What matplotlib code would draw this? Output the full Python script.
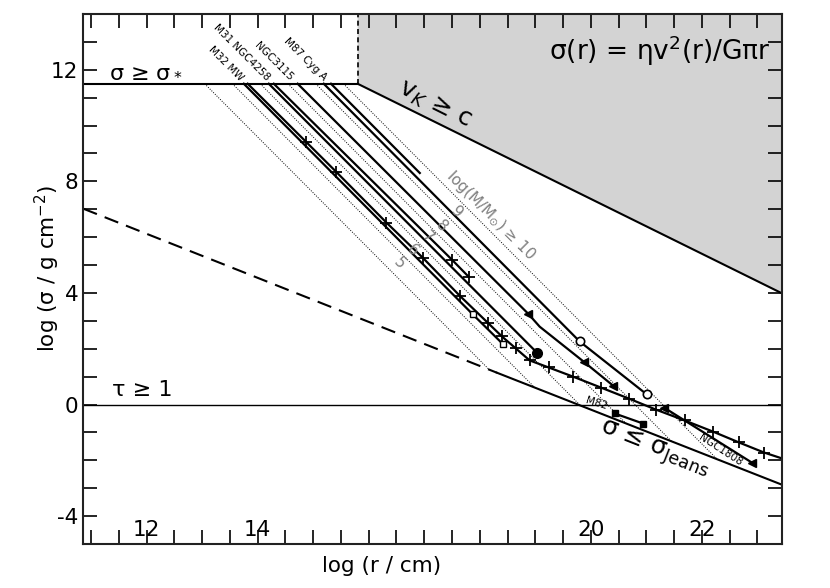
import matplotlib
matplotlib.use('Agg')
import matplotlib.pyplot as plt
from matplotlib.ticker import MultipleLocator

plt.rcParams['axes.unicode_minus'] = False

# limits of the diagram (log r, log sigma)
sigma_star = 11.5
r_vk = [15.8, 23.45]
s_vk = [11.5, 3.98]
jeans_r = [10.86, 18.31, 23.45]
jeans_s = [7.02, 1.14, -2.88]

# constant black-hole-mass lines, log(M/Msun)
mass_logs = [5, 6, 7, 8, 9, 10]
mass_zero = 32.59  # log sigma = mass_zero + m - 2 log r

# galaxies: log r, log sigma
m32_r = [13.75, 17.87, 18.41]
m32_s = [11.5, 3.24, 2.18]
mw_r = [13.82, 14.87, 15.41, 16.32, 16.97, 17.64, 18.14, 18.40, 18.65, 18.90,
        19.24, 19.68, 20.18, 20.69, 21.17, 21.69, 22.20, 22.67, 23.12, 23.44]
mw_s = [11.5, 9.42, 8.35, 6.52, 5.27, 3.90, 2.94, 2.44, 2.01, 1.58,
        1.33, 1.00, 0.61, 0.21, -0.18, -0.57, -0.97, -1.36, -1.72, -1.93]
m31_r = [14.20, 19.03]
m31_s = [11.5, 1.86]
n4258_r = [14.29, 17.50, 17.80]
n4258_s = [11.5, 5.19, 4.58]
n3115_r = [14.72, 18.87, 19.08, 19.87, 20.40]
n3115_s = [11.5, 3.26, 2.79, 1.54, 0.68]
m87_r = [15.19, 19.80, 21.01]
m87_s = [11.5, 2.26, 0.36]
cyga_r = [15.32, 16.92]
cyga_s = [11.5, 8.30]
n1808_r = [21.32, 22.90]
n1808_s = [-0.11, -2.08]
m82_r = [20.43, 20.94]
m82_s = [-0.32, -0.68]

xticks = [12, 14, 16, 18, 20, 22]
xticklabels = ['12', '14', '', '', '20', '22']
yticks = [-4, 0, 4, 8, 12]

fig = plt.figure(figsize=(8.3, 5.88), dpi=100)
ax = fig.add_axes([0.1004, 0.0748, 0.8422, 0.9014])
xmin, xmax = 10.86, 23.45
ax.set_xlim(xmin, xmax)
ax.set_ylim(-5, 14)

# forbidden region (v_K >= c)
ax.fill([r_vk[0], r_vk[0], r_vk[1], r_vk[1]], [14, s_vk[0], s_vk[1], 14],
        color='#d3d3d3', lw=0, zorder=0)
ax.plot([r_vk[0], r_vk[0]], [sigma_star, 14], 'k--', lw=1.2, dashes=(3, 2))
ax.plot([xmin, r_vk[0]], [sigma_star, sigma_star], 'k-', lw=1.5)
ax.plot(r_vk, s_vk, 'k-', lw=1.5)
ax.axhline(0, color='k', lw=1.0)

# Jeans limit: dashed left part, solid right part
ax.plot(jeans_r[:2], jeans_s[:2], 'k-', lw=1.5, dashes=(7, 4))
ax.plot(jeans_r[1:], jeans_s[1:], 'k-', lw=1.5)

# dotted mass lines from sigma_* down to the Jeans line
a = (jeans_s[2] - jeans_s[1]) / (jeans_r[2] - jeans_r[1])
for m in mass_logs:
    r0 = (mass_zero + m - sigma_star) / 2
    r1 = (mass_zero + m - jeans_s[1] + a * jeans_r[1]) / (2 + a)
    ax.plot([r0, r1], [sigma_star, mass_zero + m - 2 * r1], color='k',
            lw=0.7, ls=(0, (1, 1.5)))

lw = 1.6
ax.plot(m32_r, m32_s, 'k-', lw=lw)
ax.plot(m32_r[1:], m32_s[1:], 's', mfc='white', mec='k', ms=5, mew=1)
ax.plot(mw_r, mw_s, 'k-', lw=lw)
ax.plot(mw_r[1:-1], mw_s[1:-1], 'k+', ms=8, mew=1.3)
ax.plot(m31_r, m31_s, 'k-', lw=lw)
ax.plot(m31_r[-1], m31_s[-1], 'ko', ms=7)
ax.plot(n4258_r, n4258_s, 'k-', lw=lw)
ax.plot(n4258_r[1:], n4258_s[1:], 'k+', ms=8, mew=1.3)
ax.plot(n3115_r, n3115_s, 'k-', lw=lw)
ax.plot([n3115_r[1], n3115_r[3], n3115_r[4]], [n3115_s[1], n3115_s[3], n3115_s[4]],
        'k<', ms=6)
ax.plot(m87_r, m87_s, 'k-', lw=lw)
ax.plot(m87_r[1:], m87_s[1:], 'o', mfc='white', mec='k', ms=6, mew=1.2)
ax.plot(cyga_r, cyga_s, 'k-', lw=lw)
ax.plot(n1808_r, n1808_s, 'k-', lw=lw)
ax.plot(n1808_r, n1808_s, 'k<', ms=6)
ax.plot(m82_r, m82_s, 'k-', lw=lw)
ax.plot(m82_r, m82_s, 'ks', ms=5)

# galaxy names at the top
small = 7.5
for name, r in [('M32 MW', 13.82), ('M31 NGC4258', 14.29),
                ('NGC3115', 14.72), ('M87 Cyg A', 15.32)]:
    ax.text(r - 0.17, 11.53, name, fontsize=small, rotation=-45, ha='right',
            va='bottom', rotation_mode='anchor')
ax.text(20.1, 0.05, 'M82', fontsize=small, rotation=-17, ha='center', va='center')
ax.text(22.33, -1.62, 'NGC1808', fontsize=small, rotation=-33, ha='center', va='center')

# mass labels
grey = '#7f7f7f'
for m, x, y in [(5, 16.56, 5.05), (6, 16.79, 5.52), (7, 17.06, 5.98),
                (8, 17.32, 6.38), (9, 17.59, 6.91)]:
    ax.text(x, y, str(m), color=grey, fontsize=11, rotation=-45,
            ha='center', va='center')
ax.text(18.2, 6.77, r'log(M/M$_{\odot}$) ≥ 10', color=grey, fontsize=11,
        rotation=-45, ha='center', va='center')

ax.text(11.33, 11.75, r'σ ≥ σ$_*$', fontsize=16)
ax.text(11.37, 0.29, 'τ ≥ 1', fontsize=16)
ax.text(23.23, 12.36, r'σ(r) = ηv$^2$(r)/Gπr', fontsize=19, ha='right')
ax.text(17.19, 10.75, r'v$_K$ ≥ c', fontsize=18, rotation=-26.5,
        ha='center', va='center')
ax.text(21.15, -1.6, r'σ ≤ σ$_{\rm Jeans}$', fontsize=18, rotation=-21.5,
        ha='center', va='center')

ax.set_xticks(xticks)
ax.set_xticklabels(xticklabels)
ax.set_yticks(yticks)
ax.xaxis.set_minor_locator(MultipleLocator(0.5))
ax.yaxis.set_minor_locator(MultipleLocator(1))
ax.tick_params(which='both', direction='in', top=True, right=True,
               length=10, width=1.2, labelsize=15.5)
ax.tick_params(axis='x', pad=-17)
for s in ax.spines.values():
    s.set_linewidth(1.5)
    s.set_color('#222222')

ax.set_xlabel('log (r / cm)', fontsize=15.5)
ax.set_ylabel('log (σ / g cm$^{-2}$)', fontsize=15.5)
ax.xaxis.set_label_coords(0.426, -0.022)
ax.yaxis.set_label_coords(-0.030, 0.52)

fig.savefig('out.png', dpi=100)
